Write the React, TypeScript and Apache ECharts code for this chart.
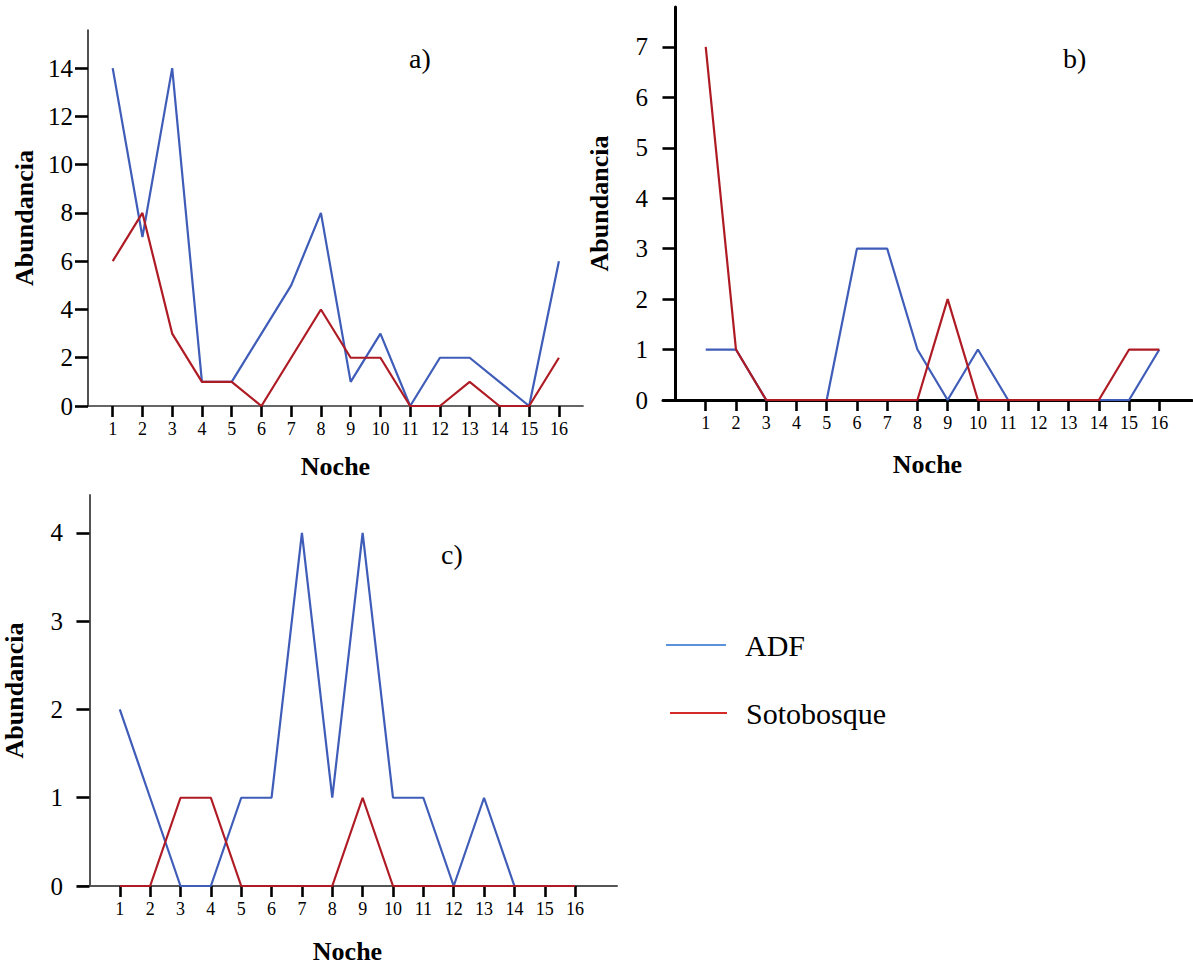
import React, { useEffect, useRef } from 'react';
import * as echarts from 'echarts';

const nights = [1, 2, 3, 4, 5, 6, 7, 8, 9, 10, 11, 12, 13, 14, 15, 16];

const adfA = [14, 7, 14, 1, 1, 3, 5, 8, 1, 3, 0, 2, 2, 1, 0, 6];
const sotoA = [6, 8, 3, 1, 1, 0, 2, 4, 2, 2, 0, 0, 1, 0, 0, 2];
const adfB = [1, 1, 0, 0, 0, 3, 3, 1, 0, 1, 0, 0, 0, 0, 0, 1];
const sotoB = [7, 1, 0, 0, 0, 0, 0, 0, 2, 0, 0, 0, 0, 0, 1, 1];
const adfC = [2, 1, 0, 0, 1, 1, 4, 1, 4, 1, 1, 0, 1, 0, 0, 0];
const sotoC = [0, 0, 1, 1, 0, 0, 0, 0, 1, 0, 0, 0, 0, 0, 0, 0];

const yTicksA = [0, 2, 4, 6, 8, 10, 12, 14];
const yTicksB = [0, 1, 2, 3, 4, 5, 6, 7];
const yTicksC = [0, 1, 2, 3, 4];

const panelLabels = ['a)', 'b)', 'c)'];
const seriesNames = ['ADF', 'Sotobosque'];

const FONT = 'Liberation Serif';
const BLUE = '#3F5DB8';
const RED = '#AF1B24';
const LEG_BLUE = '#5B92DB';
const LEG_RED = '#D42A2A';

const pairs = (vals: number[]) => nights.map((n, i) => [n, vals[i]]);

const panels = [
  { grid: { left: 88, top: 30, width: 495, height: 376 }, xMin: 0.17, xMax: 16.81, yMax: 15.58, yTicks: yTicksA, axisColor: '#333', axisWidth: 1.7, xGap: 47, yGap: 51, adf: adfA, soto: sotoA },
  { grid: { left: 663, top: 7, width: 529, height: 393 }, xMin: -0.413, xMax: 17.08, yMax: 7.79, yTicks: yTicksB, axisColor: '#000', axisWidth: 3, xGap: 51, yGap: 51, adf: adfB, soto: sotoB },
  { grid: { left: 76, top: 495, width: 541, height: 394 }, xMin: -0.377, xMax: 17.38, yMax: 4.43, yTicks: yTicksC, axisColor: '#555', axisWidth: 2, xGap: 52, yGap: 51, adf: adfC, soto: sotoC },
];

export default function App() {
  const ref = useRef<HTMLDivElement>(null);
  useEffect(() => {
    document.body.style.margin = '0';
    if (!ref.current) return;
    const chart = echarts.init(ref.current, undefined, { renderer: 'svg' });
    const nameStyle = { fontFamily: FONT, fontWeight: 'bold' as const, fontSize: 26, color: '#000' };
    const option: any = {
      animation: false,
      backgroundColor: '#fff',
      grid: panels.map((p) => ({ ...p.grid })),
      xAxis: panels.map((p, i) => ({
        type: 'value',
        gridIndex: i,
        min: p.xMin,
        max: p.xMax,
        splitLine: { show: false },
        axisLine: { show: true, onZero: true, lineStyle: { color: p.axisColor, width: p.axisWidth } },
        axisTick: { show: true, customValues: nights, length: 11, lineStyle: { color: '#000', width: 2.6 } },
        axisLabel: { customValues: nights, fontFamily: FONT, fontSize: 18, color: '#000', margin: 14 },
        name: 'Noche',
        nameLocation: 'middle',
        nameGap: p.xGap,
        nameTextStyle: nameStyle,
      })),
      yAxis: panels.map((p, i) => ({
        type: 'value',
        gridIndex: i,
        min: 0,
        max: p.yMax,
        splitLine: { show: false },
        axisLine: { show: true, lineStyle: { color: p.axisColor, width: p.axisWidth } },
        axisTick: { show: true, customValues: p.yTicks, length: 13, lineStyle: { color: '#000', width: 2.6 } },
        axisLabel: { customValues: p.yTicks, fontFamily: FONT, fontSize: 25, color: '#000', margin: 15 },
        name: 'Abundancia',
        nameLocation: 'middle',
        nameGap: p.yGap,
        nameTextStyle: nameStyle,
      })),
      legend: [
        {
          data: [{ name: seriesNames[0], itemStyle: { color: LEG_BLUE } }],
          left: 661, top: 625, orient: 'vertical', icon: 'rect', itemWidth: 60, itemHeight: 2,
          textStyle: { fontFamily: FONT, fontSize: 30, color: '#000', lineHeight: 30, padding: [0, 0, 0, 14] },
        },
        {
          data: [{ name: seriesNames[1], itemStyle: { color: LEG_RED } }],
          left: 665, top: 693, orient: 'vertical', icon: 'rect', itemWidth: 57, itemHeight: 2,
          textStyle: { fontFamily: FONT, fontSize: 30, color: '#000', lineHeight: 30, padding: [0, 0, 0, 14] },
        },
      ],
      series: panels.flatMap((p, i) => [
        { name: seriesNames[0], type: 'line', xAxisIndex: i, yAxisIndex: i, data: pairs(p.adf), symbol: 'none', lineStyle: { color: BLUE, width: 2.2 }, itemStyle: { color: BLUE } },
        { name: seriesNames[1], type: 'line', xAxisIndex: i, yAxisIndex: i, data: pairs(p.soto), symbol: 'none', lineStyle: { color: RED, width: 2.2 }, itemStyle: { color: RED } },
      ]),
      graphic: [
        { type: 'text', left: 409, top: 44, style: { text: panelLabels[0], font: `28px ${FONT}`, fill: '#000' } },
        { type: 'text', left: 1063, top: 44, style: { text: panelLabels[1], font: `28px ${FONT}`, fill: '#000' } },
        { type: 'text', left: 441, top: 540, style: { text: panelLabels[2], font: `28px ${FONT}`, fill: '#000' } },
      ],
    };
    chart.setOption(option);
    return () => chart.dispose();
  }, []);
  return <div ref={ref} style={{ width: 1193, height: 965 }} />;
}
